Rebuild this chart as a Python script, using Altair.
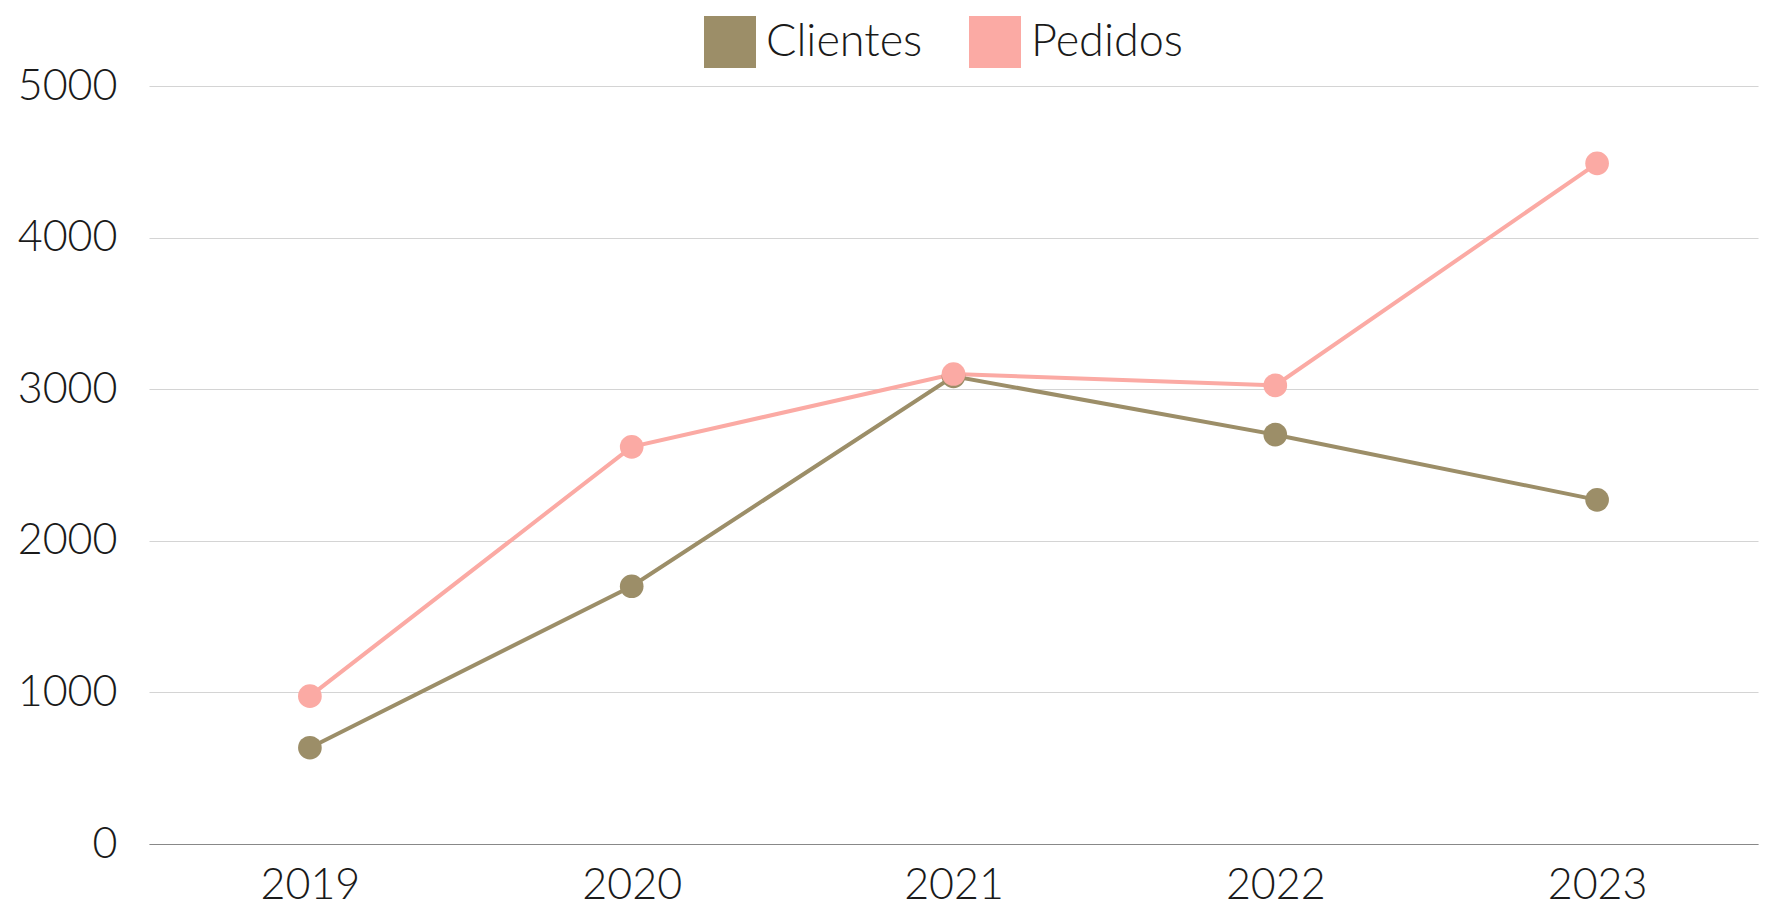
import altair as alt
import pandas as pd

years = ["2019", "2020", "2021", "2022", "2023"]
clientes = [635, 1700, 3085, 2700, 2270]
pedidos = [975, 2620, 3100, 3025, 4490]
series = ["Clientes", "Pedidos"]
colors = ["#9C8E68", "#FBAAA4"]

rows = []
for y, c, p in zip(years, clientes, pedidos):
    rows.append({"year": y, "serie": "Clientes", "value": c})
    rows.append({"year": y, "serie": "Pedidos", "value": p})
df = pd.DataFrame(rows)

FONT = "Lato"
FS = 43

x = alt.X("year:N", title=None, sort=years,
          axis=alt.Axis(labelAngle=0, labelFontSize=FS, labelPadding=20, ticks=False,
                        domainColor="#888888", domainWidth=1.2, grid=False,
                        labelColor="#1a1a1a", labelFont=FONT, labelFontWeight=300))
y = alt.Y("value:Q", title=None, scale=alt.Scale(domain=[0, 5000], nice=False),
          axis=alt.Axis(values=[0, 1000, 2000, 3000, 4000, 5000], format="d",
                        labelFontSize=FS, labelPadding=32, ticks=False, domain=False,
                        gridColor="#d4d4d4", gridWidth=1.2, labelColor="#1a1a1a",
                        labelFont=FONT, labelFontWeight=300))
color = alt.Color("serie:N", scale=alt.Scale(domain=series, range=colors),
                  legend=alt.Legend(title=None, orient="none", legendX=555, legendY=-70,
                                    direction="horizontal", symbolType="square",
                                    symbolSize=2704, symbolStrokeWidth=0, symbolOpacity=1,
                                    labelFontSize=45, labelFont=FONT, labelFontWeight=300,
                                    labelColor="#1a1a1a", labelOffset=10, columnPadding=46))

base = alt.Chart(df).encode(x=x, y=y, color=color)
lines = base.mark_line(strokeWidth=4)
points = base.mark_circle(size=560, opacity=1)

chart = (lines + points).properties(
    width=1609, height=758,
    autosize=alt.AutoSizeParams(type="none"),
    padding={"left": 141, "top": 78, "right": 5, "bottom": 66},
).configure_view(stroke=None)

chart.save("out.html", embed_options={"renderer": "svg", "actions": False})
